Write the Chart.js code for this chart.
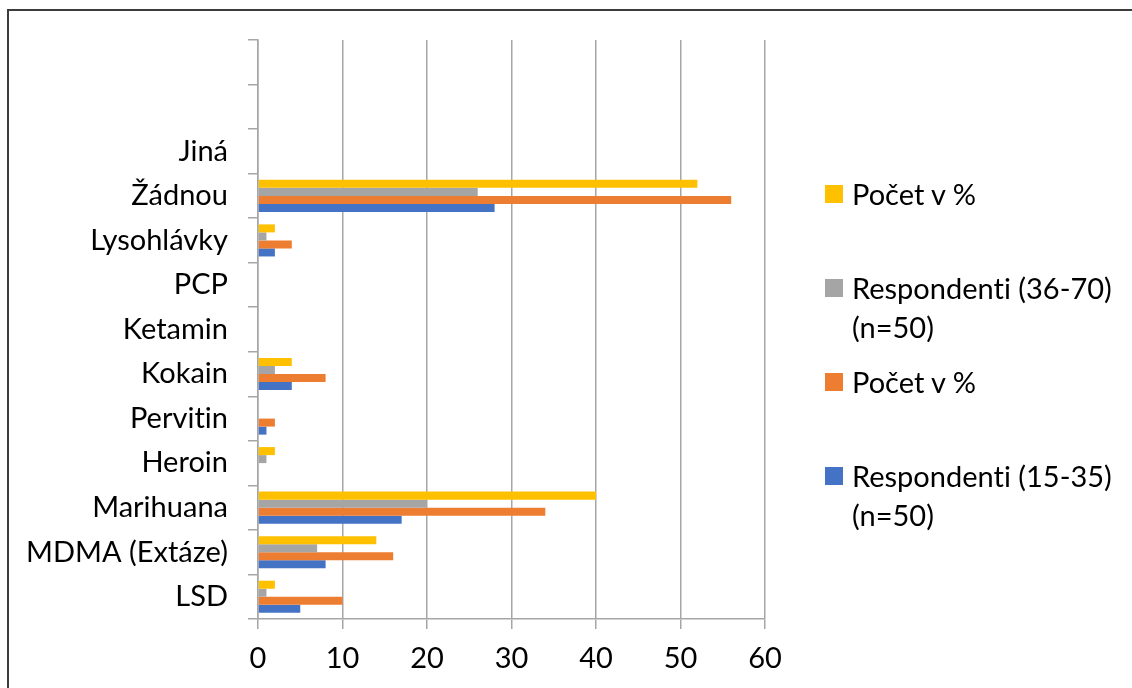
<!DOCTYPE html>
<html lang="cs">
<head>
<meta charset="utf-8">
<title>Užívané drogy</title>
<script src="https://cdn.jsdelivr.net/npm/chart.js@4"></script>
<style>
  html, body { margin: 0; padding: 0; background: #fff; }
  body { width: 1132px; height: 688px; position: relative; overflow: hidden; font-family: Lato, "Open Sans", sans-serif; font-variant-ligatures: none; }
  #frame { position: absolute; left: 7px; top: 9px; width: 1200px; height: 800px; border-left: 2px solid #3c3c3c; border-top: 2px solid #3c3c3c; }
  #chart { position: absolute; left: 0; top: 0; }
  #legend { position: absolute; left: 825px; top: 174px; width: 300px; }
  .item { position: relative; height: 94px; padding-left: 27px; font-size: 29px; line-height: 39px; color: #000; }
  .item span.box { position: absolute; left: 0; top: 11px; width: 18px; height: 18px; }
</style>
</head>
<body>
<div id="frame"></div>
<canvas id="chart" width="1132" height="688"></canvas>
<div id="legend"></div>
<script>
// kategorie odspodu nahoru, dvě horní pozice zůstávají prázdné
const drogy = ["LSD", "MDMA (Extáze)", "Marihuana", "Heroin", "Pervitin", "Kokain",
  "Ketamin", "PCP", "Lysohlávky", "Žádnou", "Jiná", "", ""];

// respondenti 15-35
const mladiPocet = [5, 8, 17, 0, 1, 4, 0, 0, 2, 28, 0];
const mladiProcenta = [10, 16, 34, 0, 2, 8, 0, 0, 4, 56, 0];
// respondenti 36-70
const starsiPocet = [1, 7, 20, 1, 0, 2, 0, 0, 1, 26, 0];
const starsiProcenta = [2, 14, 40, 2, 0, 4, 0, 0, 2, 52, 0];

const osaX = [0, 10, 20, 30, 40, 50, 60];

const seda = "#a6a6a6";
const font = { family: "Lato, 'Open Sans', sans-serif", size: 29 };

// bez ligatur "ti" v popiscích na canvasu
const bezLigatur = {
  id: "bezLigatur",
  beforeDraw: chart => { chart.ctx.letterSpacing = "0.01px"; }
};

const ctx = document.getElementById("chart").getContext("2d");

const graf = new Chart(ctx, {
  type: "bar",
  data: {
    labels: drogy,
    datasets: [
      { label: "Počet v %", data: starsiProcenta, backgroundColor: "#ffc000" },
      { label: "Respondenti (36-70) (n=50)", data: starsiPocet, backgroundColor: "#a5a5a5" },
      { label: "Počet v %", data: mladiProcenta, backgroundColor: "#ed7d31" },
      { label: "Respondenti (15-35) (n=50)", data: mladiPocet, backgroundColor: "#4472c4" }
    ]
  },
  options: {
    indexAxis: "y",
    responsive: false,
    animation: false,
    layout: { padding: { top: 40, right: 367, left: 0, bottom: 0 } },
    datasets: { bar: { categoryPercentage: 0.72, barPercentage: 1 } },
    plugins: { legend: { display: false }, tooltip: { enabled: false } },
    scales: {
      y: {
        reverse: true,
        afterFit: s => { s.width = 258; },
        border: { display: true, color: seda, width: 1.5 },
        grid: { drawOnChartArea: false, drawTicks: true, tickLength: 10, color: seda, lineWidth: 1.5 },
        ticks: { color: "#000", font, padding: 20, autoSkip: false }
      },
      x: {
        min: 0,
        max: 60,
        afterBuildTicks: s => { s.ticks = osaX.map(v => ({ value: v })); },
        afterFit: s => { s.height = 69; },
        border: { display: true, color: seda, width: 1.5 },
        grid: { color: seda, lineWidth: 1.5, tickLength: 10 },
        ticks: { color: "#000", font, padding: 12 }
      }
    }
  },
  plugins: [bezLigatur]
});

// legenda vpravo, zalomená jako v Excelu
const legend = document.getElementById("legend");
graf.data.datasets.forEach(ds => {
  const div = document.createElement("div");
  div.className = "item";
  const box = document.createElement("span");
  box.className = "box";
  box.style.background = ds.backgroundColor;
  div.appendChild(box);
  div.appendChild(document.createTextNode(ds.label));
  legend.appendChild(div);
});
</script>
</body>
</html>
